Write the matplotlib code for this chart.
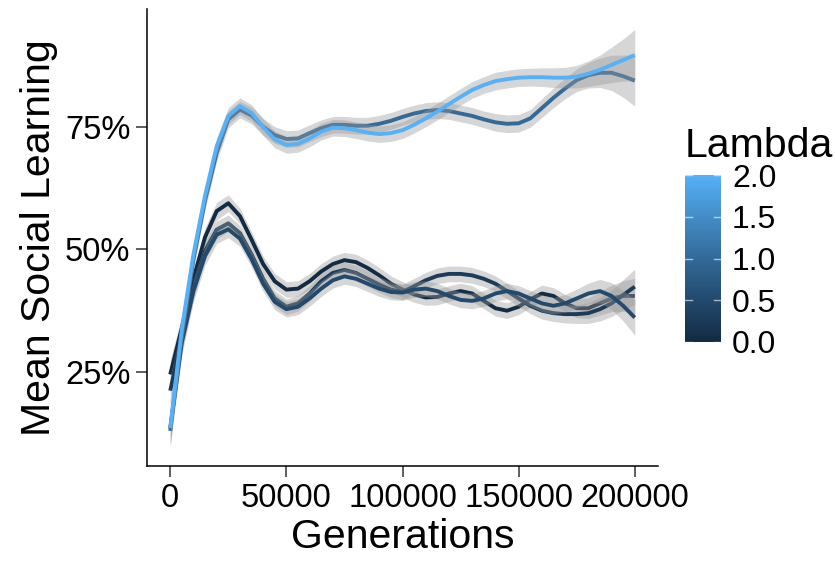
import matplotlib
matplotlib.use("Agg")
import matplotlib.pyplot as plt
import numpy as np
from matplotlib.colors import LinearSegmentedColormap

plt.rcParams['font.family'] = ['Liberation Sans', 'DejaVu Sans']

# generations, every 5000
generations = np.arange(0, 200001, 5000)

lambdas = [0.0, 0.25, 0.5, 1.0, 2.0]

# mean social learning (one list per lambda)
sl_0_00 = [0.245, 0.34, 0.44, 0.525, 0.578, 0.594, 0.568, 0.52, 0.47, 0.435, 0.418,
           0.42, 0.435, 0.455, 0.47, 0.478, 0.474, 0.462, 0.447, 0.43, 0.418,
           0.408, 0.402, 0.403, 0.41, 0.415, 0.41, 0.395, 0.38, 0.375, 0.383,
           0.398, 0.41, 0.405, 0.39, 0.38, 0.38, 0.39, 0.4, 0.405, 0.405]
sl_0_25 = [0.212, 0.32, 0.42, 0.497, 0.54, 0.553, 0.533, 0.49, 0.44, 0.4, 0.383,
           0.39, 0.41, 0.435, 0.452, 0.458, 0.452, 0.44, 0.428, 0.418, 0.413,
           0.425, 0.437, 0.446, 0.45, 0.45, 0.447, 0.44, 0.43, 0.415, 0.4,
           0.385, 0.375, 0.37, 0.368, 0.368, 0.37, 0.378, 0.39, 0.407, 0.424]
sl_0_50 = [0.135, 0.31, 0.415, 0.487, 0.53, 0.541, 0.522, 0.48, 0.43, 0.393, 0.378,
           0.383, 0.4, 0.42, 0.437, 0.445, 0.44, 0.43, 0.42, 0.413, 0.412,
           0.418, 0.42, 0.415, 0.405, 0.397, 0.395, 0.4, 0.41, 0.415, 0.41,
           0.4, 0.39, 0.385, 0.39, 0.4, 0.41, 0.415, 0.405, 0.385, 0.361]
sl_1_00 = [0.13, 0.33, 0.48, 0.6, 0.697, 0.765, 0.785, 0.773, 0.75, 0.733, 0.725,
           0.726, 0.737, 0.747, 0.754, 0.754, 0.752, 0.752, 0.756, 0.762, 0.77,
           0.777, 0.782, 0.784, 0.782, 0.777, 0.772, 0.765, 0.759, 0.756, 0.757,
           0.767, 0.788, 0.809, 0.828, 0.845, 0.855, 0.86, 0.86, 0.853, 0.844]
sl_2_00 = [0.136, 0.338, 0.49, 0.61, 0.71, 0.772, 0.792, 0.778, 0.749, 0.724, 0.713,
           0.715, 0.726, 0.74, 0.748, 0.747, 0.743, 0.738, 0.735, 0.737, 0.743,
           0.754, 0.767, 0.781, 0.796, 0.811, 0.825, 0.835, 0.843, 0.847, 0.85,
           0.851, 0.851, 0.85, 0.85, 0.852, 0.858, 0.866, 0.876, 0.886, 0.896]

# half width of the grey confidence band
band_low = [0.03, 0.025, 0.021, 0.019, 0.018, 0.017, 0.016, 0.016, 0.016, 0.016, 0.016,
            0.016, 0.016, 0.016, 0.016, 0.016, 0.016, 0.016, 0.016, 0.016, 0.016,
            0.016, 0.016, 0.016, 0.016, 0.016, 0.016, 0.016, 0.016, 0.016, 0.016,
            0.016, 0.017, 0.017, 0.018, 0.019, 0.021, 0.024, 0.027, 0.031, 0.036]
band_up = [0.035, 0.028, 0.022, 0.019, 0.018, 0.017, 0.017, 0.017, 0.017, 0.017, 0.017,
           0.017, 0.017, 0.017, 0.017, 0.017, 0.017, 0.017, 0.017, 0.017, 0.017,
           0.017, 0.017, 0.017, 0.017, 0.017, 0.017, 0.017, 0.018, 0.018, 0.018,
           0.018, 0.019, 0.02, 0.021, 0.023, 0.026, 0.03, 0.036, 0.043, 0.052]

series = [sl_0_00, sl_0_25, sl_0_50, sl_1_00, sl_2_00]
bands = [band_low, band_low, band_low, band_up, band_up]

cmap = LinearSegmentedColormap.from_list(
    'gg', ['#132B43', '#234A6D', '#336A98', '#448DC7', '#56B1F7'])

fig = plt.figure(figsize=(8.35, 5.62), dpi=100)
ax = fig.add_axes([147/835, 1-466/562, 511/835, 457/562])

z = 2
for lam, ys, se in zip(lambdas, series, bands):
    ys = np.array(ys)
    se = np.array(se)
    ax.fill_between(generations, ys-se, ys+se, color='#999999', alpha=0.4,
                    linewidth=0, zorder=z)
    ax.plot(generations, ys, color=cmap(lam/2.0), lw=2.8, zorder=z+1,
            solid_capstyle='butt', solid_joinstyle='round')
    z += 2

ax.set_xlim(-10000, 210000)
ax.set_ylim(0.0584, 0.990)
ax.set_xticks([0, 50000, 100000, 150000, 200000])
ax.set_xticklabels(['0', '50000', '100000', '150000', '200000'])
ax.set_yticks([0.25, 0.5, 0.75])
ax.set_yticklabels(['25%', '50%', '75%'])
for s in ['top', 'right']:
    ax.spines[s].set_visible(False)
for s in ['left', 'bottom']:
    ax.spines[s].set_linewidth(1.1)
    ax.spines[s].set_color('black')
ax.tick_params(length=8, width=1.1, color='#333333', labelsize=23.5,
               labelcolor='black', pad=4)
ax.set_xlabel('Generations', fontsize=29.5, labelpad=3)
ax.set_ylabel('Mean Social Learning', fontsize=29.5, labelpad=5)

# colour bar legend
cax = fig.add_axes([685/835, 1-348/562, 36/835, 180/562])
vals = np.linspace(0, 2, 300)
cax.imshow(vals[:, None], cmap=cmap, vmin=0, vmax=2, aspect='auto',
           origin='lower', extent=[0, 1, 0, 2])
cax.set_xlim(0, 1)
cax.set_ylim(-0.072, 2.084)
for v in [0, 0.5, 1.0, 1.5, 2.0]:
    cax.plot([0, 0.2], [v, v], color='white', lw=1, alpha=0.6)
    cax.plot([0.8, 1], [v, v], color='white', lw=1, alpha=0.6)
cax.set_xticks([])
cax.yaxis.tick_right()
cax.set_yticks([0, 0.5, 1.0, 1.5, 2.0])
cax.set_yticklabels(['0.0', '0.5', '1.0', '1.5', '2.0'])
cax.tick_params(axis='y', length=0, labelsize=23, pad=8)
for s in cax.spines.values():
    s.set_visible(False)
fig.text(685/835, 1-157/562, 'Lambda', fontsize=29.5, va='baseline', ha='left')

fig.savefig('out.png', dpi=100)
